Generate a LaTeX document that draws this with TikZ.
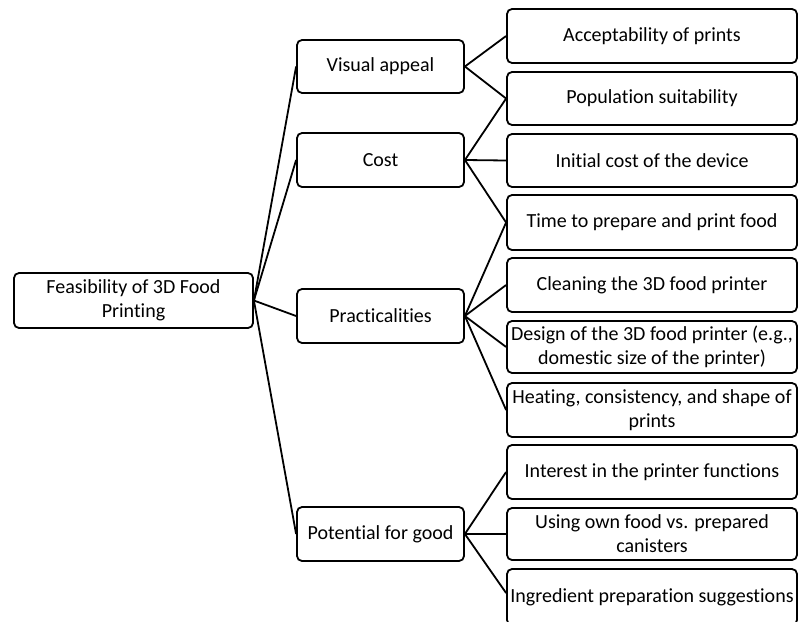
\documentclass[tikz,border=0pt]{standalone}
\usepackage{fontspec}
\setmainfont{Carlito}[Ligatures=CommonOff]
\begin{document}
\begin{tikzpicture}[x=1pt,y=-1pt,
  box/.style={draw=black, line width=1.8pt, rounded corners=5pt, fill=white,
    align=center, inner sep=0pt, font=\fontsize{20}{24}\selectfont},
  rootbox/.style={box, minimum width=239pt, minimum height=55pt},
  midbox/.style={box, minimum width=167pt, minimum height=54pt},
  leafbox/.style={box, minimum width=290pt, minimum height=54pt},
  link/.style={draw=black, line width=1.8pt}]
\useasboundingbox (0,0) rectangle (799,621);
\clip (0,0) rectangle (799,621);

% root
\node[rootbox] (root) at (133.5,300.5) {Feasibility of 3D Food\\Printing};

% themes
\node[midbox, minimum height=53pt] (vis) at (380.5,66.5) {Visual appeal};
\node[midbox] (cost) at (380.5,160) {Cost};
\node[midbox] (prac) at (380.5,316) {Practicalities};
\node[midbox] (pot) at (380.5,534) {Potential for good};

% sub-themes
\node[leafbox] (acc) at (652,36) {Acceptability of prints};
\node[leafbox, minimum height=53pt] (pop) at (652,98.5) {Population suitability};
\node[leafbox, minimum height=53pt] (init) at (652,160.5) {Initial cost of the device};
\node[leafbox, minimum height=55pt] (time) at (652,222.5) {Time to prepare and print food};
\node[leafbox] (clean) at (652,285) {Cleaning the 3D food printer};
\node[leafbox, minimum height=52pt] (design) at (652,347) {Design of the 3D food printer (e.g.,\\domestic size of the printer)};
\node[leafbox] (heat) at (652,410) {Heating, consistency, and shape of\\prints};
\node[leafbox] (int) at (652,472) {Interest in the printer functions};
\node[leafbox, minimum height=52pt] (using) at (652,534) {Using own food vs. prepared\\canisters};
\node[leafbox, minimum height=56pt] (ingr) at (652,597) {Ingredient preparation suggestions};

% root to themes
\foreach \t in {vis,cost,prac,pot}
  \draw[link] (root.east) -- (\t.west);

% themes to sub-themes
\draw[link] (vis.east) -- (acc.west);
\draw[link] (vis.east) -- (pop.west);
\draw[link] (cost.east) -- (pop.west);
\draw[link] (cost.east) -- (init.west);
\draw[link] (cost.east) -- (time.west);
\draw[link] (prac.east) -- (time.west);
\draw[link] (prac.east) -- (clean.west);
\draw[link] (prac.east) -- (design.west);
\draw[link] (prac.east) -- (heat.west);
\draw[link] (pot.east) -- (int.west);
\draw[link] (pot.east) -- (using.west);
\draw[link] (pot.east) -- ([yshift=4pt]ingr.west);
\end{tikzpicture}
\end{document}
